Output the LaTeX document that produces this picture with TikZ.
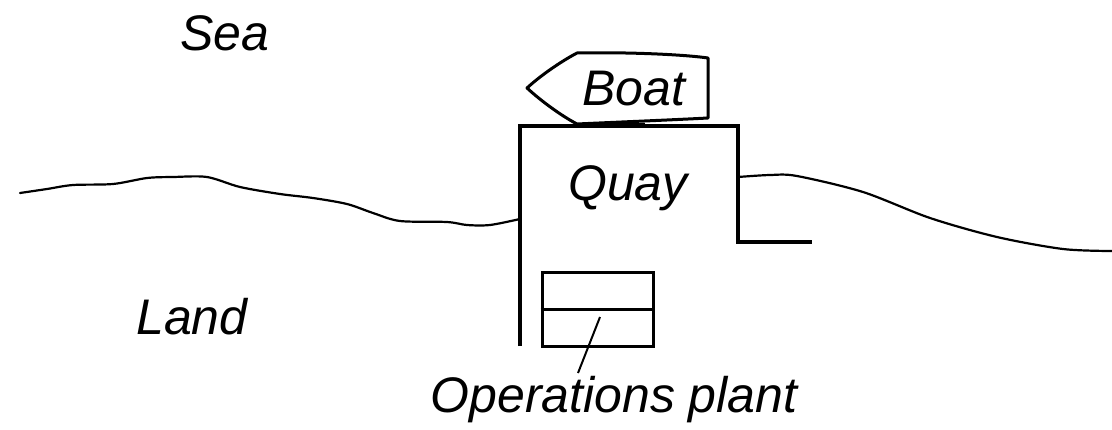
\documentclass[tikz,border=0pt]{standalone}
\usepackage{fontspec}
\setmainfont{Liberation Sans}
\begin{document}
\begin{tikzpicture}[x=0.5pt,y=-0.5pt,
  lbl/.style={font=\fontsize{25}{30}\selectfont\itshape, inner sep=0pt},
  shore/.style={line width=1.1pt, line join=round, line cap=round},
  wall/.style={line width=2pt},
  thin/.style={line width=1.5pt}]
\useasboundingbox (0,0) rectangle (1112,429);
% shoreline
\draw[shore] plot[smooth, tension=0.5] coordinates {(20,193) (47,189) (73,185) (113,184) (147,178) (173,177) (207,177) (240,187) (280,194) (313,198) (347,204) (373,213) (400,221) (447,222) (467,225) (490,225) (520,219)};
\draw[shore] plot[smooth, tension=0.5] coordinates {(738,177) (770,175) (797,176) (863,192) (930,218) (997,237) (1063,249) (1112,251)};
% quay
\coordinate (qbl) at (520,346);
\coordinate (qtl) at (520,126);
\coordinate (qtr) at (738,126);
\coordinate (qbr) at (738,242);
\coordinate (qend) at (812,242);
\draw[wall] (qbl) -- (qtl) -- (qtr) -- (qbr) -- (qend);
% boat
\draw[thin, line join=round] (577,53) .. controls (620,52) and (680,54) .. (708,58) -- (708,118) .. controls (670,120) and (620,122) .. (577,124) .. controls (560,115) and (540,100) .. (527,88) .. controls (540,76) and (560,62) .. (577,53) -- cycle;
\draw[line width=2.2pt] (578,125) -- (645,125);
% plant
\node[draw, thin, inner sep=0pt, minimum width=55.5pt, minimum height=37pt] (plant) at (597.5,309.5) {};
\draw[thin] (plant.west) -- (plant.east);
\coordinate (lead) at (600,317);
% labels
\node[lbl] (sea) at (225,33) {Sea};
\node[lbl] (land) at (192,317) {Land};
\node[lbl] (boat) at (634,89) {Boat};
\node[lbl] (quay) at (628,188) {Quay};
\node[lbl] (ops) at (614,400) {Operations plant};
\draw[line width=1pt] (lead) -- (578,373);
\end{tikzpicture}
\end{document}
